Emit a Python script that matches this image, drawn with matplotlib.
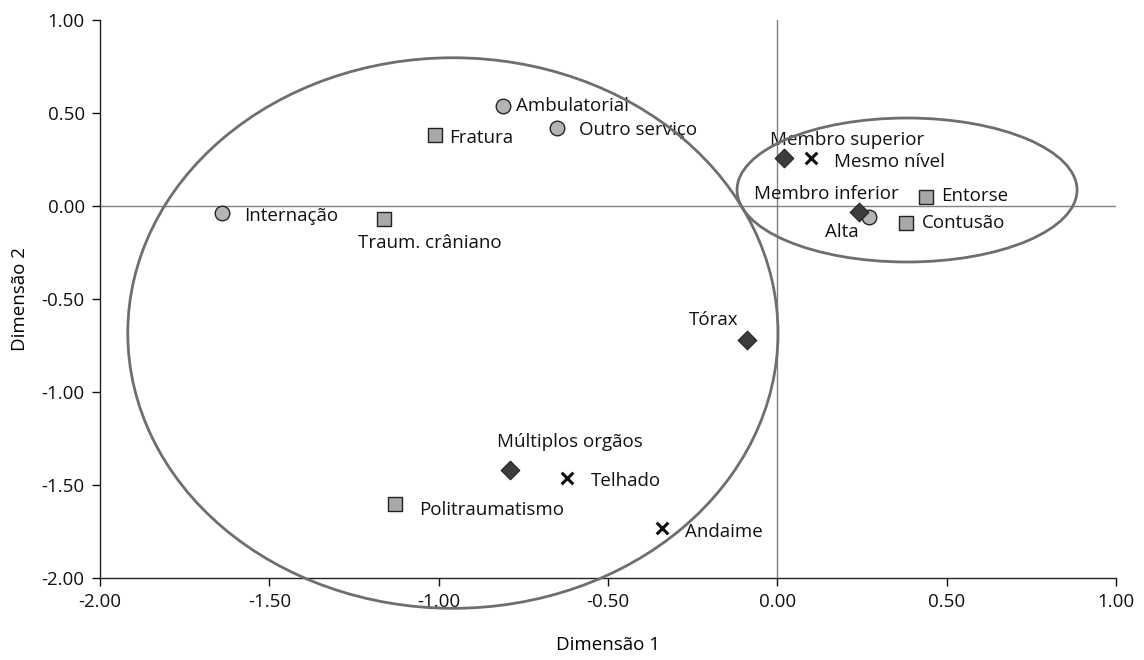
import matplotlib
matplotlib.use("Agg")
import matplotlib.pyplot as plt
from matplotlib.patches import Ellipse

plt.rcParams['font.family'] = ['Open Sans', 'DejaVu Sans']

# categorias por tipo de variável
circ_labels = ['Ambulatorial', 'Outro serviço', 'Internação', 'Alta']
circ_x = [-0.81, -0.65, -1.64, 0.27]
circ_y = [0.54, 0.42, -0.04, -0.06]

sq_labels = ['Fratura', 'Traum. crâniano', 'Politraumatismo', 'Entorse', 'Contusão']
sq_x = [-1.01, -1.16, -1.13, 0.44, 0.38]
sq_y = [0.38, -0.07, -1.60, 0.05, -0.09]

dia_labels = ['Membro superior', 'Membro inferior', 'Tórax', 'Múltiplos orgãos']
dia_x = [0.02, 0.24, -0.09, -0.79]
dia_y = [0.26, -0.03, -0.72, -1.42]

x_labels = ['Mesmo nível', 'Telhado', 'Andaime']
x_x = [0.10, -0.62, -0.34]
x_y = [0.26, -1.46, -1.73]

xticks = [-2.0, -1.5, -1.0, -0.5, 0.0, 0.5, 1.0]
yticks = [-2.0, -1.5, -1.0, -0.5, 0.0, 0.5, 1.0]

# deslocamento dos rótulos em pixels (dx, dy, ha)
offsets = {
    'Ambulatorial': (13, 0, 'left'), 'Outro serviço': (22, -2, 'left'),
    'Internação': (22, -3, 'left'), 'Alta': (-10, -15, 'right'),
    'Fratura': (14, -3, 'left'), 'Traum. crâniano': (-26, -24, 'left'),
    'Politraumatismo': (24, -6, 'left'), 'Entorse': (15, 1, 'left'),
    'Contusão': (16, 0, 'left'), 'Membro superior': (-14, 18, 'left'),
    'Membro inferior': (40, 18, 'right'), 'Tórax': (-8, 20, 'right'),
    'Múltiplos orgãos': (-13, 28, 'left'), 'Mesmo nível': (23, -4, 'left'),
    'Telhado': (24, -3, 'left'), 'Andaime': (23, -4, 'left'),
}

fig = plt.figure(figsize=(11.44, 6.6), dpi=100)
ax = fig.add_axes([100 / 1144, 82 / 660, 1016 / 1144, 558 / 660])

ax.axhline(0, color='#808080', lw=1, zorder=1)
ax.axvline(0, color='#808080', lw=1, zorder=1)

ax.scatter(circ_x, circ_y, s=110, marker='o', facecolor='#b4b4b4', edgecolor='#222222', lw=1, zorder=3)
ax.scatter(sq_x, sq_y, s=110, marker='s', facecolor='#a8a8a8', edgecolor='#222222', lw=1, zorder=3)
ax.scatter(dia_x, dia_y, s=90, marker='D', facecolor='#3c3c3c', edgecolor='#222222', lw=0.8, zorder=3)
ax.scatter(x_x, x_y, s=70, marker='x', color='#111111', lw=2.2, zorder=3)

for labs, xs, ys in [(circ_labels, circ_x, circ_y), (sq_labels, sq_x, sq_y),
                     (dia_labels, dia_x, dia_y), (x_labels, x_x, x_y)]:
    for lab, x, y in zip(labs, xs, ys):
        dx, dy, ha = offsets[lab]
        ax.annotate(lab, (x, y), xytext=(dx, dy), textcoords='offset pixels',
                    ha=ha, va='center', fontsize=13.5, color='#111111', zorder=4)

# elipses dos agrupamentos
ax.add_patch(Ellipse((-0.958, -0.683), 1.92, 2.96, fill=False, edgecolor='#6e6e6e',
                     lw=2, clip_on=False, zorder=5))
ax.add_patch(Ellipse((0.383, 0.086), 1.004, 0.774, fill=False, edgecolor='#6e6e6e',
                     lw=2, clip_on=False, zorder=5))

ax.set_xlim(-2, 1)
ax.set_ylim(-2, 1)
ax.set_xticks(xticks)
ax.set_yticks(yticks)
ax.set_xticklabels([f'{t:.2f}' for t in xticks])
ax.set_yticklabels([f'{t:.2f}' for t in yticks])
ax.tick_params(direction='out', length=6, width=1, labelsize=13.5, colors='#111111', pad=5)
for s in ['top', 'right']:
    ax.spines[s].set_visible(False)
for s in ['left', 'bottom']:
    ax.spines[s].set_color('#222222')
    ax.spines[s].set_linewidth(1)

ax.set_xlabel('Dimensão 1', fontsize=13.5, labelpad=18)
ax.set_ylabel('Dimensão 2', fontsize=13.5, labelpad=9)

fig.savefig('out.png', dpi=100)
